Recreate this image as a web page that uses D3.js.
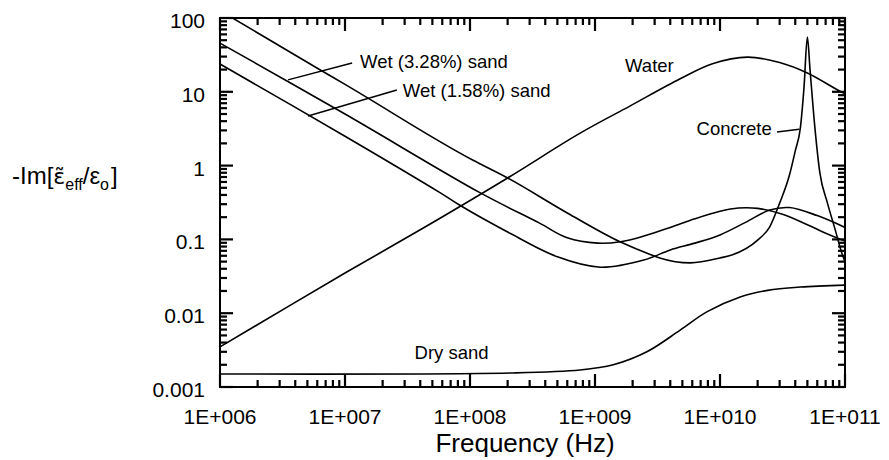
<!DOCTYPE html>
<html>
<head>
<meta charset="utf-8">
<script src="https://cdn.jsdelivr.net/npm/d3@7"></script>
<style>
  body { margin: 0; background: #fff; }
  text { font-family: "Liberation Sans", Arial, sans-serif; fill: #000; }
</style>
</head>
<body>
<svg id="chart" width="889" height="460"></svg>
<script>
// axis ticks
const xDecades = [1e6, 1e7, 1e8, 1e9, 1e10, 1e11];
const xTickLabels = ["1E+006", "1E+007", "1E+008", "1E+009", "1E+010", "1E+011"];
const yDecades = [0.001, 0.01, 0.1, 1, 10, 100];
const yTickLabels = ["0.001", "0.01", "0.1", "1", "10", "100"];

// curves (frequency in Hz, value)
const concreteF = [1e6, 6.6e6, 1e7, 1.05e8, 2e8, 6e8, 1.6e9, 2.8e9, 3.3e9, 5.8e9, 1e10, 1.26e10, 2e10, 2.5e10, 3e10, 3.6e10, 4e10, 4.4e10, 4.7e10, 5e10, 5.25e10, 5.75e10, 6.3e10, 7.2e10, 8.3e10, 9.5e10, 1e11];
const concreteV = [126, 19, 12.6, 1.19, 0.68, 0.228, 0.092, 0.062, 0.056, 0.048, 0.056, 0.062, 0.098, 0.148, 0.31, 0.75, 1.58, 3.3, 11.5, 55, 20, 3.2, 0.79, 0.32, 0.14, 0.063, 0.05];

const wet328F = [1e6, 1e7, 1.2e8, 3.6e8, 6e8, 1.05e9, 1.6e9, 2.5e9, 4e9, 6.3e9, 1e10, 1.4e10, 2e10, 3.16e10, 5e10, 7.1e10, 1e11];
const wet328V = [45.7, 5.0, 0.43, 0.166, 0.105, 0.089, 0.093, 0.112, 0.145, 0.19, 0.24, 0.266, 0.263, 0.219, 0.158, 0.12, 0.095];

const wet158F = [1e6, 1e7, 5.75e7, 8.3e7, 2e8, 5e8, 1.1e9, 2.5e9, 4e9, 6.3e9, 1e10, 1.6e10, 2.5e10, 3.6e10, 6e10, 1e11];
const wet158V = [23.8, 2.5, 0.43, 0.29, 0.126, 0.058, 0.042, 0.053, 0.072, 0.089, 0.115, 0.17, 0.25, 0.27, 0.21, 0.145];

const waterF = [1e6, 1e7, 4e7, 2e8, 7.6e8, 1.9e9, 4.8e9, 8.7e9, 1.66e10, 3e10, 5e10, 9.1e10, 1e11];
const waterV = [0.0035, 0.035, 0.135, 0.68, 2.75, 6.4, 15.0, 24.0, 29.5, 25.0, 18.0, 10.2, 9.5];

const drySandF = [1e6, 2.2e8, 7.6e8, 1.4e9, 2.6e9, 4.8e9, 7.9e9, 1.45e10, 2.4e10, 4.4e10, 1e11];
const drySandV = [0.0015, 0.00155, 0.0017, 0.002, 0.003, 0.0059, 0.0105, 0.0166, 0.0204, 0.0226, 0.024];

const seriesF = [concreteF, wet328F, wet158F, waterF, drySandF];
const seriesV = [concreteV, wet328V, wet158V, waterV, drySandV];

// text labels in data coordinates
const labelText = ["Wet (3.28%) sand", "Wet (1.58%) sand", "Water", "Concrete", "Dry sand"];
const labelF = [1.32e7, 2.9e7, 1.74e9, 6.5e9, 3.6e7];
const labelV = [21, 8.5, 18.6, 2.6, 0.0024];
// leader lines: [f1, v1, f2, v2]
const leaders = [
  [1.14e7, 24.5, 3.5e6, 14.5],
  [2.6e7, 10.6, 5.06e6, 4.7],
  [2.86e10, 2.85, 4.3e10, 3.1]
];

const svg = d3.select("#chart");
const plotL = 220, plotR = 845, plotT = 18, plotB = 387;

const x = d3.scaleLog().domain([1e6, 1e11]).range([plotL, plotR]);
const y = d3.scaleLog().domain([0.001, 100]).range([plotB, plotT]);

// minor ticks 2..9 in each decade
function minors(dec) {
  const out = [];
  for (let i = 0; i < dec.length - 1; i++)
    for (let k = 2; k <= 9; k++) out.push(dec[i] * k);
  return out;
}
const xTicks = xDecades.map(d => ({ v: d, len: 13 })).concat(minors(xDecades).map(d => ({ v: d, len: 7 })));
const yTicks = yDecades.map(d => ({ v: d, len: 13 })).concat(minors(yDecades).map(d => ({ v: d, len: 7 })));

svg.append("clipPath").attr("id", "plot-clip")
  .append("rect").attr("x", plotL).attr("y", plotT)
  .attr("width", plotR - plotL).attr("height", plotB - plotT);

// frame
svg.append("rect")
  .attr("x", plotL).attr("y", plotT)
  .attr("width", plotR - plotL).attr("height", plotB - plotT)
  .attr("fill", "none").attr("stroke", "#000").attr("stroke-width", 2);

// tick labels
svg.append("g").selectAll("text")
  .data(xDecades)
  .join("text")
  .attr("x", d => x(d))
  .attr("y", 424)
  .attr("text-anchor", "middle")
  .style("font-size", "21px")
  .text((d, i) => xTickLabels[i]);

svg.append("g").selectAll("text")
  .data(yDecades)
  .join("text")
  .attr("x", 205)
  .attr("y", d => y(d) + 10)
  .attr("text-anchor", "end")
  .style("font-size", "21px")
  .text((d, i) => yTickLabels[i]);

// axis titles
svg.append("text")
  .attr("x", 525).attr("y", 452)
  .attr("text-anchor", "middle")
  .style("font-size", "26px")
  .text("Frequency (Hz)");

const yt = svg.append("text")
  .attr("x", 12).attr("y", 184)
  .style("font-size", "24px");
yt.append("tspan").text("-Im[");
yt.append("tspan").style("font-family", "'DejaVu Sans'").style("font-size", "22px").text("ε\u0303");
yt.append("tspan").attr("dy", 6).style("font-size", "16px").text("eff");
yt.append("tspan").attr("dy", -6).text("/ε");
yt.append("tspan").attr("dy", 6).style("font-size", "16px").text("o");
yt.append("tspan").attr("dy", -6).attr("dx", 2).text("]");

// curves
const lineSmooth = d3.line()
  .x(d => x(d[0]))
  .y(d => y(d[1]))
  .curve(d3.curveCatmullRom.alpha(0.5));
const lineSharp = d3.line()
  .x(d => x(d[0]))
  .y(d => y(d[1]))
  .curve(d3.curveMonotoneX);

svg.append("g")
  .attr("clip-path", "url(#plot-clip)")
  .selectAll("path")
  .data(seriesF.map((f, i) => f.map((v, j) => [v, seriesV[i][j]])))
  .join("path")
  .attr("d", (d, i) => i === 0 ? lineSharp(d) : lineSmooth(d))
  .attr("fill", "none")
  .attr("stroke", "#000")
  .attr("stroke-width", 1.6);

// leaders and labels
svg.append("g").selectAll("line")
  .data(leaders)
  .join("line")
  .attr("x1", d => x(d[0])).attr("y1", d => y(d[1]))
  .attr("x2", d => x(d[2])).attr("y2", d => y(d[3]))
  .attr("stroke", "#000").attr("stroke-width", 1.5);

svg.append("g").selectAll("text")
  .data(labelText)
  .join("text")
  .attr("x", (d, i) => x(labelF[i]))
  .attr("y", (d, i) => y(labelV[i]))
  .style("font-size", "18.5px")
  .text(d => d);

// ticks pointing inside on all four sides
svg.append("g").selectAll("line")
  .data(xTicks.map(t => ({ ...t, edge: plotB, dir: -1 }))
    .concat(xTicks.map(t => ({ ...t, edge: plotT, dir: 1 }))))
  .join("line")
  .attr("x1", d => x(d.v)).attr("x2", d => x(d.v))
  .attr("y1", d => d.edge).attr("y2", d => d.edge + d.dir * d.len)
  .attr("stroke", "#000").attr("stroke-width", 2.2);

svg.append("g").selectAll("line")
  .data(yTicks.map(t => ({ ...t, edge: plotL, dir: 1 }))
    .concat(yTicks.map(t => ({ ...t, edge: plotR, dir: -1 }))))
  .join("line")
  .attr("y1", d => y(d.v)).attr("y2", d => y(d.v))
  .attr("x1", d => d.edge).attr("x2", d => d.edge + d.dir * d.len)
  .attr("stroke", "#000").attr("stroke-width", 2.2);
</script>
</body>
</html>
